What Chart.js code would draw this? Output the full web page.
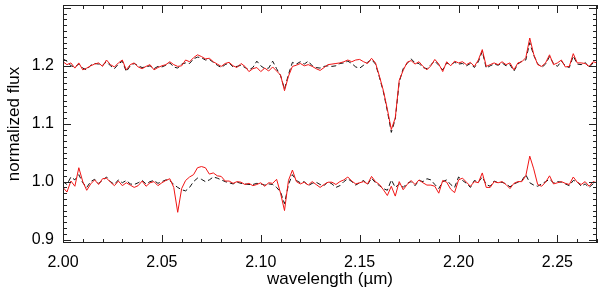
<!DOCTYPE html>
<html>
<head>
<meta charset="utf-8">
<script src="https://cdn.jsdelivr.net/npm/chart.js@4"></script>
<style>
  html, body { margin: 0; padding: 0; background: #fff; }
  #wrap { width: 600px; height: 291px; }
</style>
</head>
<body>
<div id="wrap"><canvas id="spec" width="600" height="291"></canvas></div>
<script>
// sampling of the spectra (micron)
const waveStart = 2.000, waveStep = 0.002;

// upper pair (offset by +0.2)
const redTop = [
  1.207,1.202,1.205,1.196,1.205,1.193,1.196,1.200,1.203,1.205,
  1.199,1.210,1.202,1.198,1.205,1.210,1.193,1.202,1.205,1.198,
  1.195,1.199,1.202,1.193,1.197,1.200,1.202,1.207,1.202,1.199,
  1.200,1.210,1.207,1.214,1.219,1.216,1.212,1.213,1.207,1.203,
  1.199,1.204,1.206,1.200,1.197,1.204,1.199,1.190,1.195,1.197,
  1.190,1.196,1.191,1.198,1.191,1.184,1.157,1.182,1.199,1.201,
  1.204,1.200,1.202,1.199,1.195,1.192,1.197,1.202,1.203,1.204,
  1.205,1.207,1.210,1.207,1.210,1.211,1.207,1.204,1.213,1.205,
  1.182,1.157,1.125,1.090,1.110,1.175,1.192,1.206,1.209,1.203,
  1.207,1.199,1.193,1.200,1.211,1.203,1.190,1.207,1.200,1.208,
  1.205,1.207,1.202,1.206,1.199,1.210,1.228,1.199,1.202,1.205,
  1.202,1.207,1.202,1.205,1.193,1.205,1.207,1.214,1.248,1.220,
  1.202,1.199,1.205,1.219,1.202,1.205,1.210,1.198,1.199,1.221,
  1.205,1.205,1.204,1.199,1.207,1.205
];
const blackTop = [
  1.212,1.208,1.200,1.198,1.203,1.196,1.193,1.201,1.204,1.203,
  1.201,1.207,1.200,1.195,1.203,1.208,1.190,1.200,1.204,1.200,
  1.197,1.198,1.200,1.195,1.199,1.198,1.201,1.205,1.198,1.196,
  1.203,1.205,1.204,1.212,1.215,1.214,1.210,1.211,1.206,1.201,
  1.197,1.202,1.205,1.198,1.199,1.201,1.197,1.193,1.197,1.208,
  1.200,1.195,1.196,1.208,1.195,1.183,1.160,1.185,1.206,1.203,
  1.207,1.203,1.208,1.200,1.197,1.196,1.199,1.200,1.199,1.200,
  1.204,1.205,1.208,1.204,1.198,1.196,1.201,1.206,1.211,1.203,
  1.180,1.155,1.122,1.085,1.108,1.172,1.195,1.204,1.212,1.205,
  1.204,1.197,1.195,1.202,1.208,1.201,1.193,1.205,1.202,1.206,
  1.203,1.204,1.200,1.204,1.197,1.207,1.225,1.196,1.200,1.203,
  1.201,1.205,1.200,1.202,1.191,1.203,1.208,1.210,1.240,1.218,
  1.204,1.197,1.203,1.216,1.204,1.199,1.208,1.200,1.197,1.217,
  1.203,1.202,1.206,1.197,1.205,1.203
];

// lower pair
const redLow = [
  0.990,0.982,1.001,0.992,1.024,1.000,0.985,0.996,1.003,0.995,
  1.005,1.006,0.999,0.993,1.001,0.993,0.998,0.994,0.990,0.993,
  1.001,0.992,0.998,1.000,0.993,0.998,1.002,1.005,0.990,0.947,
  0.988,1.002,1.008,1.012,1.024,1.026,1.024,1.013,1.015,1.010,
  1.009,1.001,1.001,0.997,1.000,0.999,0.995,0.997,0.993,0.995,
  0.998,0.992,0.998,0.997,1.004,0.980,0.950,1.002,1.020,1.000,
  0.996,0.999,0.994,1.000,0.995,0.990,0.995,0.999,0.999,0.995,
  1.000,1.003,1.008,1.001,0.996,0.998,1.000,0.996,1.009,1.000,
  0.995,0.986,0.976,0.992,0.975,1.000,0.986,0.995,1.002,0.995,
  1.003,0.998,0.994,0.994,0.992,0.980,1.002,0.999,0.987,0.981,
  1.003,1.006,0.999,0.992,1.000,0.998,1.015,0.990,0.990,1.000,
  0.998,1.000,0.995,0.988,0.997,1.000,1.000,1.010,1.044,1.022,
  0.995,0.992,0.999,1.010,0.996,0.998,1.000,0.997,0.995,1.008,
  0.999,0.995,1.000,0.992,1.000,0.998
];
const blackLow = [
  1.000,0.995,1.008,1.003,1.012,0.998,0.990,1.000,1.004,0.997,
  1.002,1.008,1.000,0.995,1.003,0.998,1.002,0.996,0.995,0.998,
  1.002,0.996,1.000,1.002,0.997,1.000,1.003,1.002,0.995,0.990,
  0.986,0.984,0.990,1.000,1.006,1.004,1.000,1.003,1.008,1.006,
  1.003,1.000,0.998,0.996,0.999,0.997,0.996,0.995,0.995,0.997,
  0.996,0.994,0.996,0.995,0.990,0.982,0.962,0.995,1.012,1.002,
  0.998,1.000,0.993,0.997,0.999,0.995,0.993,1.000,0.996,0.990,
  0.993,1.000,1.005,1.000,0.994,0.998,1.002,0.995,1.006,0.998,
  0.993,0.988,0.985,1.003,0.990,0.996,0.990,0.997,1.000,0.993,
  1.002,1.000,1.005,1.003,0.995,0.988,1.000,1.003,0.995,0.990,
  1.008,1.002,0.997,0.990,1.002,0.999,1.008,0.995,0.992,1.001,
  0.998,0.999,0.996,0.991,0.996,0.999,1.002,1.012,0.998,0.994,
  0.992,0.996,1.000,1.004,0.998,1.000,0.999,0.996,0.993,1.002,
  1.000,0.992,0.996,0.990,0.996,1.000
];

// axis tick labels
const xTicks = [2.00, 2.05, 2.10, 2.15, 2.20, 2.25];
const yTicks = [0.9, 1.0, 1.1, 1.2];

const wavelength = redTop.map((_, i) => +(waveStart + i * waveStep).toFixed(3));
const toXY = (arr) => arr.map((v, i) => ({ x: wavelength[i], y: v }));

// IDL style box with inward ticks on all four sides
const boxTicks = {
  id: 'boxTicks',
  afterDraw(chart) {
    const ctx = chart.ctx, a = chart.chartArea;
    const xs = chart.scales.x, ys = chart.scales.y;
    ctx.save();
    ctx.strokeStyle = '#222';
    ctx.lineWidth = 1;
    ctx.strokeRect(Math.round(a.left) + 0.5, Math.round(a.top) + 0.5,
                   Math.round(a.right - a.left) - 1, Math.round(a.bottom - a.top) - 1);
    ctx.beginPath();
    for (let k = 200; k <= 227; k++) {
      const v = k / 100;
      const px = Math.round(xs.getPixelForValue(v)) + 0.5;
      const len = (k % 5 === 0) ? 8 : 4;
      ctx.moveTo(px, a.bottom); ctx.lineTo(px, a.bottom - len);
      ctx.moveTo(px, a.top); ctx.lineTo(px, a.top + len);
    }
    for (let k = 90; k <= 130; k++) {
      const v = k / 100;
      if (v < ys.min || v > ys.max) continue;
      const py = Math.round(ys.getPixelForValue(v)) + 0.5;
      const len = (k % 10 === 0) ? 8 : 4;
      ctx.moveTo(a.left, py); ctx.lineTo(a.left + len, py);
      ctx.moveTo(a.right, py); ctx.lineTo(a.right - len, py);
    }
    ctx.stroke();
    ctx.restore();
  }
};

const font = { family: '"Liberation Sans", Arial, sans-serif', size: 16 };

new Chart(document.getElementById('spec'), {
  type: 'line',
  data: {
    datasets: [
      { data: toXY(redTop), borderColor: 'rgb(240,20,20)', borderWidth: 1, pointRadius: 0, tension: 0 },
      { data: toXY(redLow), borderColor: 'rgb(240,20,20)', borderWidth: 1, pointRadius: 0, tension: 0 },
      { data: toXY(blackTop), borderColor: '#111', borderWidth: 1, borderDash: [5, 3], pointRadius: 0, tension: 0 },
      { data: toXY(blackLow), borderColor: '#111', borderWidth: 1, borderDash: [5, 3], pointRadius: 0, tension: 0 }
    ]
  },
  options: {
    responsive: false,
    animation: false,
    devicePixelRatio: 1,
    layout: { padding: { top: 5, right: 3, left: 0, bottom: 0 } },
    plugins: { legend: { display: false }, tooltip: { enabled: false } },
    scales: {
      x: {
        type: 'linear', min: 2.0, max: 2.27,
        grid: { display: false, drawTicks: false },
        border: { display: false },
        afterBuildTicks: (s) => { s.ticks = xTicks.map(v => ({ value: v })); },
        afterFit: (s) => { s.height = 48; s.paddingLeft = 0; s.paddingRight = 0; },
        ticks: { color: '#000', font: font, padding: 10, maxRotation: 0,
                 callback: (v) => Number(v).toFixed(2) },
        title: { display: true, text: 'wavelength (\u00b5m)', color: '#000',
                 font: { family: font.family, size: 17 }, padding: { top: 0, bottom: 1 } }
      },
      y: {
        min: 0.894, max: 1.305,
        grid: { display: false, drawTicks: false },
        border: { display: false },
        afterBuildTicks: (s) => { s.ticks = yTicks.map(v => ({ value: v })); },
        afterFit: (s) => { s.width = 63; s.paddingTop = 0; s.paddingBottom = 0; },
        ticks: { color: '#000', font: font, padding: 9,
                 callback: (v) => Number(v).toFixed(1) },
        title: { display: true, text: 'normalized flux', color: '#000',
                 font: { family: font.family, size: 17 }, padding: { top: 4, bottom: 0 } }
      }
    }
  },
  plugins: [boxTicks]
});
</script>
</body>
</html>
